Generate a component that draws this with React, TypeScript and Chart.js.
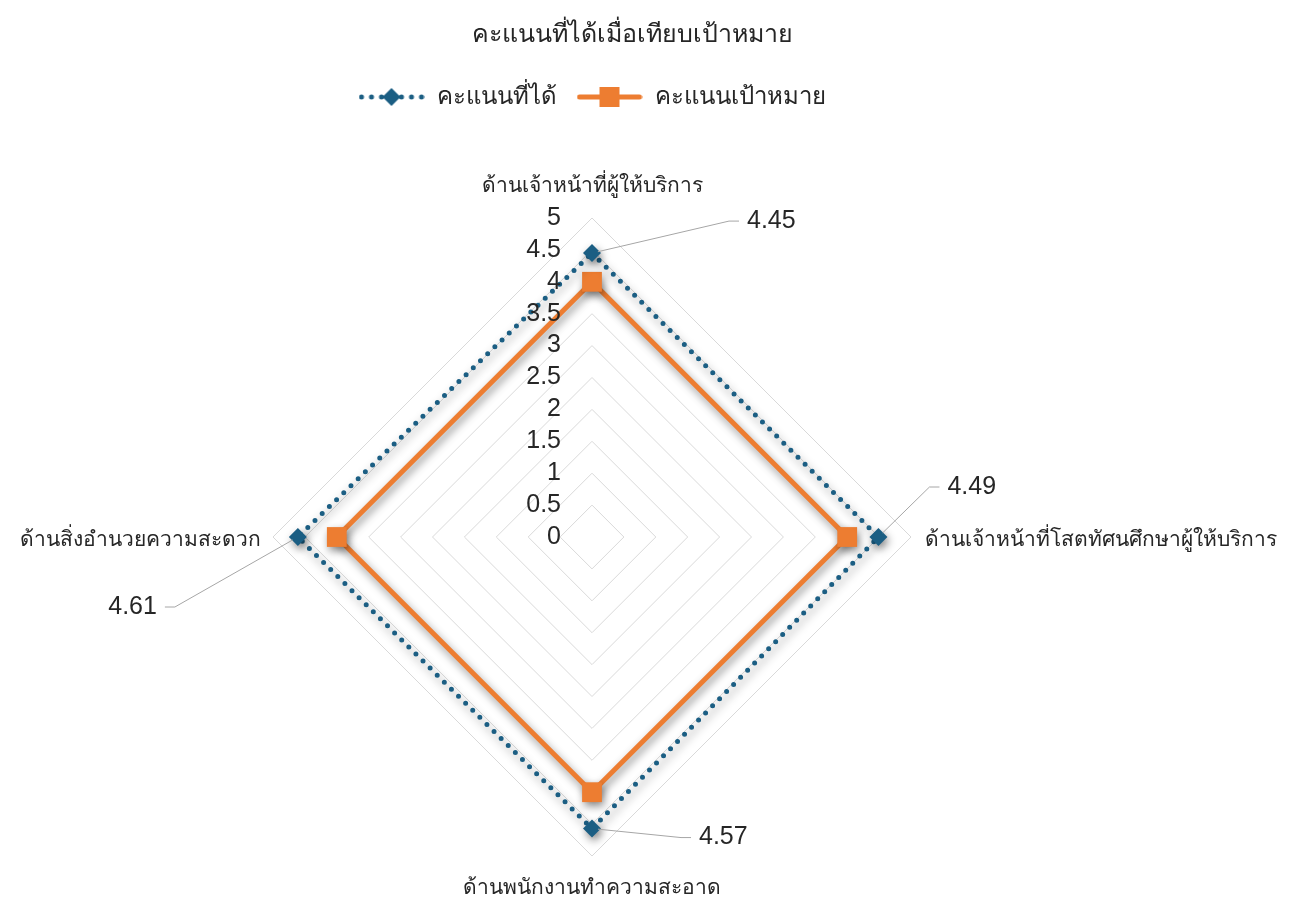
import React, { useEffect, useRef } from 'react';
import { Chart, registerables, layouts } from 'chart.js';

Chart.register(...registerables);

// ---------- data ----------
const TITLE = 'คะแนนที่ได้เมื่อเทียบเป้าหมาย';
const CATEGORIES = [
  'ด้านเจ้าหน้าที่ผู้ให้บริการ',
  'ด้านเจ้าหน้าที่โสตทัศนศึกษาผู้ให้บริการ',
  'ด้านพนักงานทำความสะอาด',
  'ด้านสิ่งอำนวยความสะดวก',
];
const SERIES_NAMES = ['คะแนนที่ได้', 'คะแนนเป้าหมาย'];
const SCORE = [4.45, 4.49, 4.57, 4.61];
const TARGET = [4, 4, 4, 4];
const AXIS_MIN = 0;
const AXIS_MAX = 5;
const AXIS_STEP = 0.5;

// ---------- styling ----------
const BLUE = '#1b5e83';
const ORANGE = '#ed7d31';
const TEXT = '#262626';
const GRID = '#d9d9d9';
const LEADER = '#a6a6a6';
const FONT = "'Liberation Sans', Arial, sans-serif";
const W = 1273;
const H = 888;
// distance of category labels beyond the outer ring
const CAT_PAD = [32, 14, 32, 12];
// data label offsets relative to their point
const LABEL_OFFSETS = [
  { dx: 155, dy: -32, align: 'left' },
  { dx: 69, dy: -50, align: 'left' },
  { dx: 107, dy: 9, align: 'left' },
  { dx: -141, dy: 70, align: 'right' },
];

Chart.defaults.font.family = FONT;

function makeSpacer(position: string, weight: number, size: number) {
  const box: any = {
    position,
    weight,
    fullSize: false,
    options: {},
    top: 0,
    left: 0,
    right: 0,
    bottom: 0,
    width: 0,
    height: 0,
    isHorizontal() {
      return position === 'top' || position === 'bottom';
    },
    update(maxWidth: number, maxHeight: number) {
      if (box.isHorizontal()) {
        box.width = maxWidth;
        box.height = size;
      } else {
        box.width = size;
        box.height = maxHeight;
      }
    },
    draw() {},
  };
  return box;
}

function makeIcon(kind: 'score' | 'target') {
  const c = document.createElement('canvas');
  c.width = 66;
  c.height = 22;
  const ctx = c.getContext('2d')!;
  const cy = 11;
  if (kind === 'score') {
    ctx.strokeStyle = BLUE;
    ctx.lineWidth = 5;
    ctx.lineCap = 'round';
    ctx.setLineDash([0, 10]);
    ctx.beginPath();
    ctx.moveTo(3, cy);
    ctx.lineTo(64, cy);
    ctx.stroke();
    ctx.setLineDash([]);
    ctx.fillStyle = BLUE;
    ctx.beginPath();
    ctx.moveTo(33 - 9, cy);
    ctx.lineTo(33, cy - 9);
    ctx.lineTo(33 + 9, cy);
    ctx.lineTo(33, cy + 9);
    ctx.closePath();
    ctx.fill();
  } else {
    ctx.strokeStyle = ORANGE;
    ctx.lineWidth = 5;
    ctx.lineCap = 'round';
    ctx.beginPath();
    ctx.moveTo(3, cy);
    ctx.lineTo(63, cy);
    ctx.stroke();
    ctx.fillStyle = ORANGE;
    ctx.fillRect(33 - 10, cy - 10, 20, 20);
  }
  return c;
}

const spacerPlugin = {
  id: 'spacers',
  beforeInit(chart: any) {
    layouts.addBox(chart, makeSpacer('top', 500, 99));
    layouts.addBox(chart, makeSpacer('right', 0, 80));
  },
};

const shadowPlugin = {
  id: 'lineShadow',
  beforeDatasetDraw(chart: any) {
    const ctx = chart.ctx;
    ctx.save();
    ctx.shadowColor = 'rgba(0,0,0,0.45)';
    ctx.shadowBlur = 9;
    ctx.shadowOffsetX = 2;
    ctx.shadowOffsetY = 4;
  },
  afterDatasetDraw(chart: any) {
    chart.ctx.restore();
  },
};

function fmt(v: number) {
  return String(Math.round(v * 100) / 100);
}

const textPlugin = {
  id: 'radarTexts',
  afterDatasetsDraw(chart: any) {
    const ctx = chart.ctx;
    const s = chart.scales.r;
    ctx.save();
    // tick labels
    ctx.fillStyle = TEXT;
    ctx.font = `25px ${FONT}`;
    ctx.textAlign = 'right';
    ctx.textBaseline = 'middle';
    s.ticks.forEach((t: any) => {
      const d = s.getDistanceFromCenterForValue(t.value);
      ctx.fillText(fmt(t.value), s.xCenter - 31, s.yCenter - d);
    });
    // category labels
    ctx.font = `21px ${FONT}`;
    (chart.data.labels as string[]).forEach((lab, i) => {
      const p = s.getPointPosition(i, s.drawingArea + CAT_PAD[i]);
      const dx = p.x - s.xCenter;
      let y = p.y;
      if (Math.abs(dx) < 1) {
        ctx.textAlign = 'center';
      } else {
        ctx.textAlign = dx > 0 ? 'left' : 'right';
        y += 3;
      }
      ctx.fillText(lab, p.x, y);
    });
    // data labels with leader lines
    const meta = chart.getDatasetMeta(0);
    const ds = chart.data.datasets[0];
    ctx.font = `25px ${FONT}`;
    meta.data.forEach((pt: any, i: number) => {
      const o = LABEL_OFFSETS[i];
      const lx = pt.x + o.dx;
      const ly = pt.y + o.dy;
      const sign = o.align === 'left' ? 1 : -1;
      const endX = lx - sign * 8;
      const elbowX = lx - sign * 18;
      const ang = Math.atan2(ly - pt.y, elbowX - pt.x);
      ctx.strokeStyle = LEADER;
      ctx.lineWidth = 1;
      ctx.beginPath();
      ctx.moveTo(pt.x + Math.cos(ang) * 6, pt.y + Math.sin(ang) * 6);
      ctx.lineTo(elbowX, ly);
      ctx.lineTo(endX, ly);
      ctx.stroke();
      ctx.textAlign = o.align;
      ctx.textBaseline = 'middle';
      ctx.fillStyle = TEXT;
      ctx.fillText(fmt(ds.data[i]), lx, ly);
    });
    ctx.restore();
  },
};

export default function App() {
  const ref = useRef<HTMLCanvasElement>(null);
  useEffect(() => {
    const icons = [makeIcon('score'), makeIcon('target')];
    const chart = new Chart(ref.current as HTMLCanvasElement, {
      type: 'radar',
      data: {
        labels: CATEGORIES,
        datasets: [
          {
            label: SERIES_NAMES[0],
            data: SCORE,
            borderColor: BLUE,
            backgroundColor: BLUE,
            borderWidth: 5,
            borderDash: [0, 10],
            borderCapStyle: 'round',
            borderJoinStyle: 'round',
            fill: false,
            pointStyle: 'rectRot',
            pointRadius: 9,
            pointHoverRadius: 9,
            pointBackgroundColor: BLUE,
            pointBorderColor: BLUE,
            pointBorderWidth: 0,
          },
          {
            label: SERIES_NAMES[1],
            data: TARGET,
            borderColor: ORANGE,
            backgroundColor: ORANGE,
            borderWidth: 5,
            borderJoinStyle: 'miter',
            fill: false,
            pointStyle: 'rect',
            pointRadius: 14,
            pointHoverRadius: 14,
            pointBackgroundColor: ORANGE,
            pointBorderColor: ORANGE,
            pointBorderWidth: 0,
          },
        ],
      },
      options: {
        responsive: false,
        animation: false,
        layout: { padding: { left: 0, right: 25, top: 0, bottom: 40 } },
        scales: {
          r: {
            min: AXIS_MIN,
            max: AXIS_MAX,
            ticks: { stepSize: AXIS_STEP, display: false },
            grid: { color: GRID, lineWidth: 1 },
            angleLines: { display: false },
            pointLabels: { display: false },
          },
        },
        plugins: {
          title: {
            display: true,
            text: TITLE,
            color: TEXT,
            font: { size: 25, family: FONT, weight: 'normal', lineHeight: '29px' },
            padding: { top: 13, bottom: 15 },
          },
          legend: {
            position: 'top',
            fullSize: false,
            labels: {
              usePointStyle: true,
              pointStyleWidth: 66,
              padding: 20,
              color: TEXT,
              font: { size: 24, family: FONT },
              generateLabels: (c: any) => {
                const items = (Chart.defaults.plugins.legend.labels as any).generateLabels(c);
                return items.map((it: any, i: number) => ({ ...it, pointStyle: icons[i] }));
              },
            },
          },
          tooltip: { enabled: false },
        },
      } as any,
      plugins: [spacerPlugin, shadowPlugin, textPlugin] as any,
    });
    return () => chart.destroy();
  }, []);
  return (
    <div style={{ width: W, height: H }}>
      <canvas ref={ref} width={W} height={H} style={{ display: 'block' }} />
    </div>
  );
}
